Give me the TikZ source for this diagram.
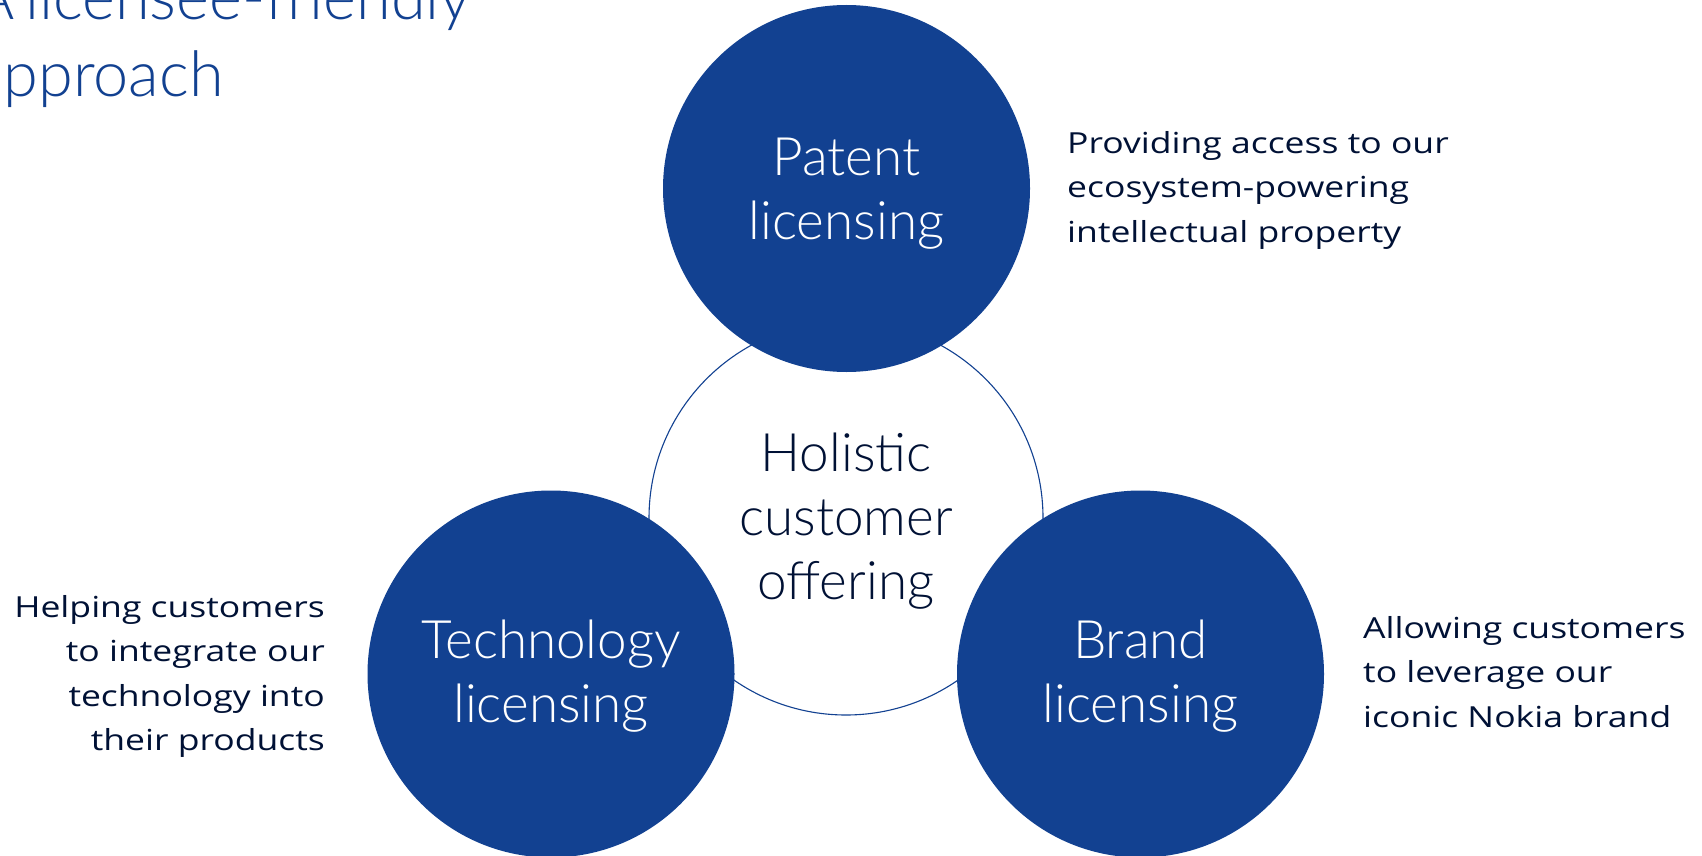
\documentclass[tikz,border=0pt]{standalone}
\usepackage{fontspec}
\setmainfont{Lato}
\newfontfamily\lightfont{Lato Light}
\newfontfamily\notefont{Open Sans}[FakeStretch=1.225]
\definecolor{nokiablue}{HTML}{124191}
\definecolor{nokiadark}{HTML}{001135}
\newcommand\titlefont{\lightfont\fontsize{63}{77}\selectfont\spaceskip=0.17em plus 0.05em\relax}
\tikzset{
  bigdisc/.style={circle, fill=nokiablue, draw=none, inner sep=0pt,
    minimum size=367pt},
  disclabel/.style={inner sep=0pt, text=white, align=center,
    font=\lightfont\fontsize{53}{64}\selectfont},
  hubring/.style={circle, draw=nokiablue, line width=1.1pt, inner sep=0pt,
    minimum size=394pt},
  hublabel/.style={inner sep=0pt, text=nokiadark, align=center,
    font=\lightfont\fontsize{53}{64}\selectfont},
  blurb/.style={inner sep=0pt, text=nokiadark,
    font=\notefont\fontsize{29}{44.5}\selectfont},
  headline/.style={inner sep=0pt, text=nokiablue, align=left,
    font=\titlefont}
}
\begin{document}
\begin{tikzpicture}[x=1pt,y=-1pt]
  \useasboundingbox (0,0) rectangle (1702,856);
  \fill[white] (0,0) rectangle (1702,856);

  % title, partly running off the page
  \node[headline, anchor=north west] (title) at (-27,-27)
    {A licensee-friendly\\approach};

  % hub ring behind the three discs
  \node[hubring] (hub) at (846,518) {};
  \node[hublabel] (hubtext) at ([yshift=-3pt]hub.center)
    {Holistic\\customer\\offering};

  % the three licensing discs
  \node[bigdisc] (patent) at (846.5,188.5) {};
  \node[bigdisc] (tech)   at (551,674)     {};
  \node[bigdisc] (brand)  at (1140.5,674)  {};
  \node[disclabel] (patenttext) at ([yshift=-5pt]patent.center) {Patent\\licensing};
  \node[disclabel] (techtext)   at ([yshift=-2pt]tech.center)   {Technology\\licensing};
  \node[disclabel] (brandtext)  at ([yshift=-2pt]brand.center)  {Brand\\licensing};

  % descriptions
  \node[blurb, anchor=north west, align=left] (patentnote) at (1067,131)
    {Providing access to our\\ecosystem-powering\\intellectual property};
  \node[blurb, anchor=north east, align=right] (technote) at (325,595)
    {Helping customers\\to integrate our\\technology into\\their products};
  \node[blurb, anchor=north west, align=left] (brandnote) at (1363,616)
    {Allowing customers\\to leverage our\\iconic Nokia brand};
\end{tikzpicture}
\end{document}
